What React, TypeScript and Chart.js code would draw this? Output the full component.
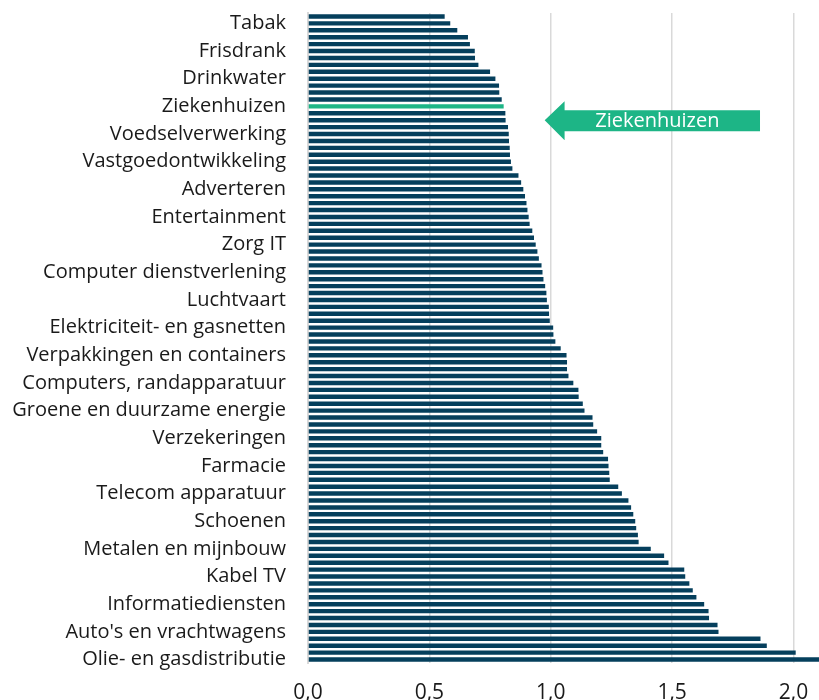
import React, { useEffect, useRef } from "react";
import { Chart, registerables } from "chart.js";

Chart.register(...registerables);

const labeledCategories: string[] = [
  "Tabak",
  "Frisdrank",
  "Drinkwater",
  "Ziekenhuizen",
  "Voedselverwerking",
  "Vastgoedontwikkeling",
  "Adverteren",
  "Entertainment",
  "Zorg IT",
  "Computer dienstverlening",
  "Luchtvaart",
  "Elektriciteit- en gasnetten",
  "Verpakkingen en containers",
  "Computers, randapparatuur",
  "Groene en duurzame energie",
  "Verzekeringen",
  "Farmacie",
  "Telecom apparatuur",
  "Schoenen",
  "Metalen en mijnbouw",
  "Kabel TV",
  "Informatiediensten",
  "Auto's en vrachtwagens",
  "Olie- en gasdistributie",
];

const values: number[] = [
  0.563, 0.586, 0.615, 0.659, 0.667, 0.687, 0.688, 0.702, 0.75, 0.772,
  0.787, 0.788, 0.798, 0.806, 0.813, 0.814, 0.824, 0.827, 0.828, 0.831,
  0.832, 0.836, 0.842, 0.867, 0.878, 0.887, 0.894, 0.9, 0.904, 0.909,
  0.913, 0.924, 0.931, 0.938, 0.945, 0.951, 0.962, 0.966, 0.97, 0.977,
  0.982, 0.984, 0.992, 0.993, 0.996, 1.01, 1.011, 1.019, 1.041, 1.065,
  1.067, 1.067, 1.073, 1.093, 1.114, 1.115, 1.132, 1.139, 1.172, 1.175,
  1.191, 1.208, 1.208, 1.216, 1.236, 1.238, 1.241, 1.243, 1.278, 1.293,
  1.32, 1.331, 1.34, 1.348, 1.352, 1.359, 1.362, 1.412, 1.467, 1.485,
  1.55, 1.554, 1.571, 1.585, 1.6, 1.632, 1.65, 1.652, 1.687, 1.691,
  1.864, 1.89, 2.009, 2.15,
];

const highlightName = "Ziekenhuizen";
const xTicks: number[] = [0, 0.5, 1.0, 1.5, 2.0];
const xMax = 2.105;

const NAVY = "#053f5c";
const GREEN = "#1db586";
const FONT = "'Open Sans'";

const labels: string[] = values.map((_, i) =>
  i % 4 === 1 ? labeledCategories[(i - 1) / 4] : ""
);
const highlightIndex = labels.indexOf(highlightName);

const arrowPlugin = {
  id: "arrowAnnotation",
  afterDatasetsDraw(chart: any) {
    const { ctx } = chart;
    const xs = chart.scales.x;
    const ys = chart.scales.y;
    const yc = ys.getPixelForValue(highlightIndex + 2);
    const tip = xs.getPixelForValue(0.975);
    const neck = xs.getPixelForValue(1.057);
    const end = xs.getPixelForValue(1.862);
    ctx.save();
    ctx.fillStyle = GREEN;
    ctx.beginPath();
    ctx.moveTo(tip, yc);
    ctx.lineTo(neck, yc - 19);
    ctx.lineTo(neck, yc - 10);
    ctx.lineTo(end, yc - 10);
    ctx.lineTo(end, yc + 11);
    ctx.lineTo(neck, yc + 11);
    ctx.lineTo(neck, yc + 20);
    ctx.closePath();
    ctx.fill();
    ctx.fillStyle = "#ffffff";
    ctx.font = "20px " + FONT;
    ctx.textAlign = "center";
    ctx.textBaseline = "middle";
    ctx.fillText(highlightName, (neck + end) / 2 - 5, yc + 1);
    ctx.restore();
  },
};

export default function App() {
  const canvasRef = useRef<HTMLCanvasElement | null>(null);

  useEffect(() => {
    document.body.style.margin = "0";
    const canvas = canvasRef.current;
    if (!canvas) return;
    const chart = new Chart(canvas, {
      type: "bar",
      data: {
        labels,
        datasets: [
          {
            data: values,
            backgroundColor: values.map((_, i) =>
              i === highlightIndex ? GREEN : NAVY
            ),
            borderWidth: 0,
            barPercentage: 0.8,
            categoryPercentage: 0.8,
          },
        ],
      },
      options: {
        indexAxis: "y",
        animation: false,
        responsive: false,
        maintainAspectRatio: false,
        layout: { padding: { top: 13, right: 0, bottom: 0, left: 0 } },
        plugins: {
          legend: { display: false },
          tooltip: { enabled: false },
        },
        scales: {
          x: {
            type: "linear",
            min: 0,
            max: xMax,
            afterBuildTicks: (scale: any) => {
              scale.ticks = xTicks.map((v) => ({ value: v }));
            },
            afterFit: (scale: any) => {
              scale.height = 37;
              scale.paddingLeft = 0;
              scale.paddingRight = 0;
            },
            grid: {
              color: "#d9d9d9",
              lineWidth: 1.5,
              drawTicks: false,
            },
            border: { display: false },
            ticks: {
              padding: 17,
              color: "#1a1a1a",
              font: { family: FONT, size: 21 },
              callback: (v: any) => Number(v).toFixed(1).replace(".", ","),
            },
          },
          y: {
            type: "category",
            afterFit: (scale: any) => {
              scale.width = 308;
              scale.paddingTop = 0;
              scale.paddingBottom = 0;
            },
            grid: { display: false, drawTicks: false },
            border: { display: true, color: "#d9d9d9", width: 2 },
            ticks: {
              autoSkip: false,
              padding: 22,
              color: "#1a1a1a",
              font: { family: FONT, size: 20 },
            },
          },
        },
      },
      plugins: [arrowPlugin],
    });
    return () => chart.destroy();
  }, []);

  return (
    <div style={{ width: 819, height: 700, position: "relative" }}>
      <canvas ref={canvasRef} width={819} height={700} style={{ display: "block" }} />
    </div>
  );
}
